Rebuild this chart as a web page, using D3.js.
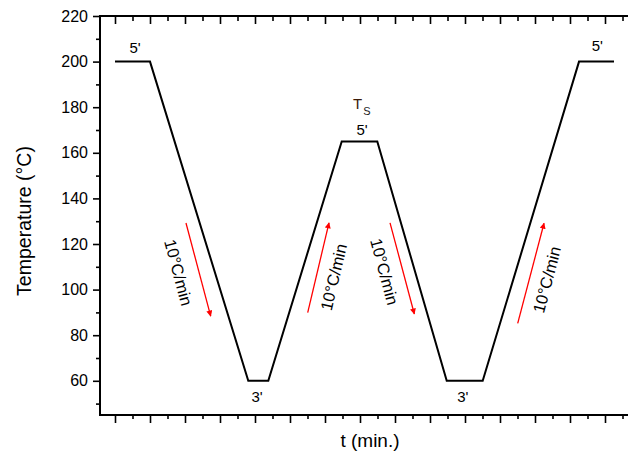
<!DOCTYPE html>
<html>
<head>
<meta charset="utf-8">
<script src="https://cdn.jsdelivr.net/npm/d3@7"></script>
<style>
  html, body { margin: 0; padding: 0; background: #fff; }
  svg { display: block; font-family: Arial, "Liberation Sans", sans-serif; }
</style>
</head>
<body>
<svg id="chart" width="628" height="454"></svg>
<script>
// ---- data ----
const timeMin = [0, 5, 19.04, 21.9, 32.39, 37.47, 47.39, 52.53, 66.29, 71.29];
const tempC   = [200, 200, 60, 60, 165, 165, 60, 60, 200, 200];

const yMajorTicks = [60, 80, 100, 120, 140, 160, 180, 200, 220];
const yMinorTicks = [50, 70, 90, 110, 130, 150, 170, 190, 210];
const xMajorTicks = d3.range(0, 76, 5);
const xMinorTicks = d3.range(2.5, 76, 5);

const holdLabels = ["5'", "3'", "5'", "3'", "5'"];
const holdLabelT = [2.86, 20.3, 35.3, 49.7, 68.9];
const holdLabelTemp = [203.9, 50.7, 167.8, 50.7, 204.8];

const rateArrowsFrom = [[10.14, 129.2], [27.53, 89.9], [39.29, 129.3], [57.53, 85.2]];
const rateArrowsTo   = [[13.67, 88.4], [30.57, 129.3], [42.76, 89.3], [61.29, 129.1]];
const rateLabels = ["10°C/min", "10°C/min", "10°C/min", "10°C/min"];
const rateLabelPos = [[8.86, 107.3], [31.43, 105.3], [38.29, 107.7], [61.9, 104.2]];

const xTitle = "t (min.)";
const yTitle = "Temperature (°C)";

// ---- layout ----
const svg = d3.select("#chart");
const L = 100, R = 640, T = 16, B = 415;
const x = d3.scaleLinear().domain([-15/7, 75]).range([L, R]);
const y = d3.scaleLinear().domain([45, 220]).range([B, T]);

svg.append("defs").append("marker")
  .attr("id", "ah").attr("viewBox", "0 0 10 10")
  .attr("refX", 9).attr("refY", 5)
  .attr("markerWidth", 8).attr("markerHeight", 6)
  .attr("markerUnits", "userSpaceOnUse")
  .attr("orient", "auto")
  .append("path").attr("d", "M0,0 L10,5 L0,10 Z").attr("fill", "#ff0000");

// left axis
const yAxisMajor = d3.axisLeft(y).tickValues(yMajorTicks).tickSize(7).tickPadding(5).tickFormat(d3.format("d"));
const yAxisMinor = d3.axisLeft(y).tickValues(yMinorTicks).tickSize(4).tickFormat("");
const gy = svg.append("g").attr("transform", `translate(${L},0)`).call(yAxisMajor);
const gy2 = svg.append("g").attr("transform", `translate(${L},0)`).call(yAxisMinor);

// bottom axis
const gx = svg.append("g").attr("transform", `translate(0,${B})`)
  .call(d3.axisBottom(x).tickValues(xMajorTicks).tickSize(8).tickFormat(""));
const gx2 = svg.append("g").attr("transform", `translate(0,${B})`)
  .call(d3.axisBottom(x).tickValues(xMinorTicks).tickSize(4).tickFormat(""));

// top axis (ticks inward)
const gt = svg.append("g").attr("transform", `translate(0,${T})`)
  .call(d3.axisTop(x).tickValues(xMajorTicks).tickSize(-8).tickFormat(""));
const gt2 = svg.append("g").attr("transform", `translate(0,${T})`)
  .call(d3.axisTop(x).tickValues(xMinorTicks).tickSize(-5).tickFormat(""));

[gy, gy2, gx, gx2, gt, gt2].forEach(g => {
  g.selectAll(".domain").remove();
  g.selectAll(".tick line").attr("stroke", "#000").attr("stroke-width", 1.6);
  g.selectAll(".tick text").attr("font-size", 16).attr("fill", "#000")
    .attr("font-family", "Arial, 'Liberation Sans', sans-serif");
});

// axis lines
svg.append("line").attr("x1", L).attr("x2", L).attr("y1", T - 1).attr("y2", B + 1)
  .attr("stroke", "#000").attr("stroke-width", 2);
svg.append("line").attr("x1", L - 1).attr("x2", R).attr("y1", B).attr("y2", B)
  .attr("stroke", "#000").attr("stroke-width", 2);
svg.append("line").attr("x1", L - 1).attr("x2", R).attr("y1", T).attr("y2", T)
  .attr("stroke", "#000").attr("stroke-width", 2);

// profile line
const pts = timeMin.map((t, i) => [t, tempC[i]]);
svg.append("path").datum(pts)
  .attr("d", d3.line().x(d => x(d[0])).y(d => y(d[1])))
  .attr("fill", "none").attr("stroke", "#000").attr("stroke-width", 2)
  .attr("stroke-linejoin", "miter");

// hold labels
svg.selectAll("text.hold").data(holdLabels).enter().append("text")
  .attr("class", "hold")
  .attr("x", (d, i) => x(holdLabelT[i]))
  .attr("y", (d, i) => y(holdLabelTemp[i]))
  .attr("text-anchor", "middle").attr("font-size", 15).attr("fill", "#000")
  .text(d => d);

// Ts label
const ts = svg.append("text")
  .attr("x", x(34.0)).attr("y", y(179.2))
  .attr("font-size", 15);
ts.append("tspan").attr("fill", "#3a1a08").text("T");
ts.append("tspan").attr("font-size", 11).attr("dy", 6).attr("dx", 1).attr("fill", "#222").text("S");

// rate arrows
svg.selectAll("line.arrow").data(rateArrowsFrom).enter().append("line")
  .attr("class", "arrow")
  .attr("x1", d => x(d[0])).attr("y1", d => y(d[1]))
  .attr("x2", (d, i) => x(rateArrowsTo[i][0])).attr("y2", (d, i) => y(rateArrowsTo[i][1]))
  .attr("stroke", "#ff0000").attr("stroke-width", 1.3)
  .attr("marker-end", "url(#ah)");

// rate labels
svg.selectAll("text.rate").data(rateLabels).enter().append("text")
  .attr("class", "rate")
  .attr("transform", (d, i) => {
    const a = rateArrowsFrom[i], b = rateArrowsTo[i];
    let ang = Math.atan2(y(b[1]) - y(a[1]), x(b[0]) - x(a[0])) * 180 / Math.PI;
    if (ang > 90) ang -= 180;
    if (ang < -90) ang += 180;
    return `translate(${x(rateLabelPos[i][0])},${y(rateLabelPos[i][1])}) rotate(${ang})`;
  })
  .attr("text-anchor", "middle").attr("dominant-baseline", "middle")
  .attr("font-size", 16.5).attr("fill", "#000")
  .text(d => d);

// axis titles
svg.append("text").attr("x", 370).attr("y", 447)
  .attr("text-anchor", "middle").attr("font-size", 19).attr("fill", "#000")
  .text(xTitle);
svg.append("text").attr("transform", `translate(31,221) rotate(-90)`)
  .attr("text-anchor", "middle").attr("font-size", 19.5).attr("fill", "#000")
  .text(yTitle);
</script>
</body>
</html>
